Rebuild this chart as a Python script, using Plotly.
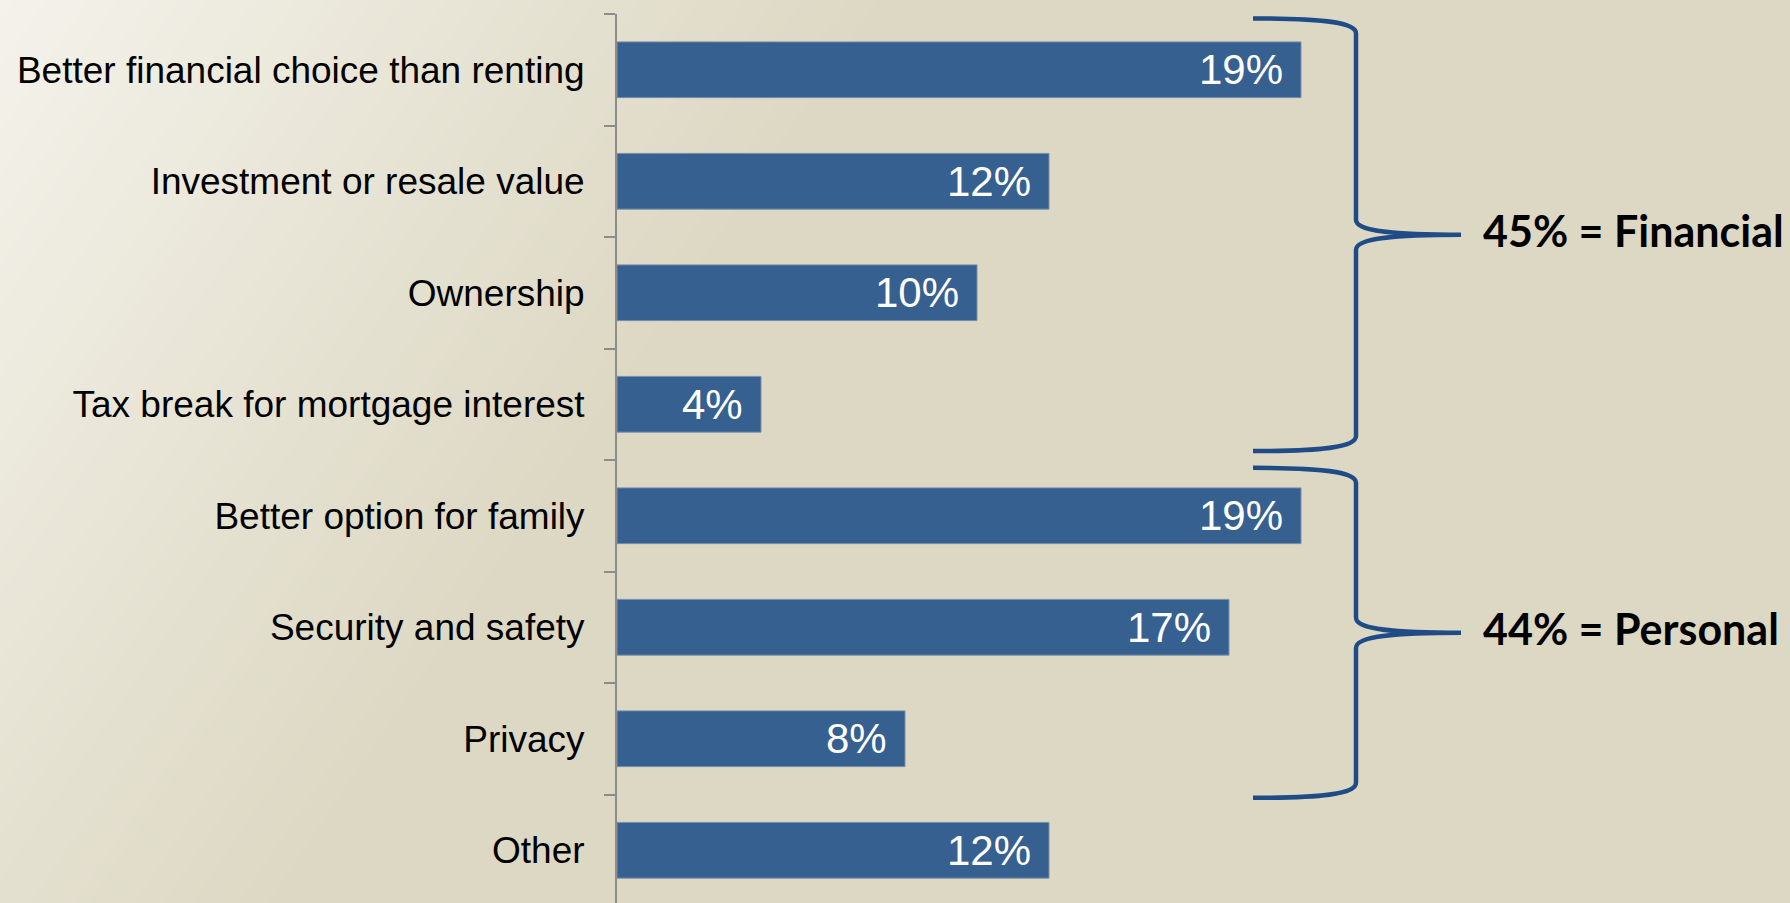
import plotly.graph_objects as go

# ---------------- data ----------------
categories = [
    "Better financial choice than renting",
    "Investment or resale value",
    "Ownership",
    "Tax break for mortgage interest",
    "Better option for family",
    "Security and safety",
    "Privacy",
    "Other",
]
values = [19, 12, 10, 4, 19, 17, 8, 12]
group_names = ["Financial", "Personal"]
group_members = [[0, 1, 2, 3], [4, 5, 6]]

# ---------------- layout constants ----------------
W, H = 1790, 903
ML, MR, MT, MB = 617, 0, 14, 0
PW, PH = W - ML - MR, H - MT - MB
PX_PER_UNIT = 36.0
x_max = PW / PX_PER_UNIT
y_top, y_bot = -0.5, 7.473

BAR_COLOR = "#36608f"
BAR_EDGE = "#7890ae"
BRACE_COLOR = "#1f4c86"
AXIS_COLOR = "#8c8c8c"
BG_END = (0xdd, 0xd8, 0xc3)
BG_START = (0xf4, 0xf2, 0xeb)

idx = list(range(len(categories)))

fig = go.Figure()
fig.add_trace(go.Bar(
    x=values, y=idx, orientation="h", width=0.5,
    marker=dict(color=BAR_COLOR, line=dict(color=BAR_EDGE, width=1)),
    hoverinfo="skip", showlegend=False,
))

# value labels inside bar ends
annotations = []
for i, v in zip(idx, values):
    annotations.append(dict(
        x=v, y=i, xref="x", yref="y", text=f"{v}%", showarrow=False,
        xanchor="right", yanchor="middle", xshift=-16,
        font=dict(family="Liberation Sans, Arial", size=42, color="white"),
    ))

# ---------------- background gradient (diagonal) ----------------
def px2paper(px, py):
    return (px - ML) / PW, 1 - (py - MT) / PH

shapes = []
dx, dy = 0.83, 0.56
T_END = 740.0
steps = 60
for k in range(steps, 0, -1):
    t = T_END * k / steps
    f = (k - 0.5) / steps
    col = tuple(round(BG_START[c] + (BG_END[c] - BG_START[c]) * f) for c in range(3))
    ya, yb = -20, 930
    xa = (t - ya * dy) / dx
    xb = (t - yb * dy) / dx
    pts = [(-3000, ya), (xa, ya), (xb, yb), (-3000, yb)]
    pp = [px2paper(*p) for p in pts]
    path = "M " + " L ".join(f"{a:.5f},{b:.5f}" for a, b in pp) + " Z"
    shapes.append(dict(type="path", path=path, xref="paper", yref="paper",
                       fillcolor="rgb(%d,%d,%d)" % col, line=dict(width=0),
                       layer="below"))

# ---------------- braces ----------------
def px2x(px):
    return (px - ML) / PX_PER_UNIT

x_arm, x_vert, x_tip, x_lab = px2x(1253), px2x(1356), px2x(1461), px2x(1481)
insets = [(0.04, -0.08), (0.07, 0.03)]
k = 0.135
for name, members, (i0, i1) in zip(group_names, group_members, insets):
    y0 = members[0] - 0.5 + i0
    y1 = members[-1] + 0.5 + i1
    yc = (y0 + y1) / 2
    xm = x_arm + (x_vert - x_arm) * 0.65
    xn = x_vert + (x_tip - x_vert) * 0.35
    path = (
        f"M {x_arm},{y0} C {xm},{y0} {x_vert},{y0+0.03} {x_vert},{y0+k} "
        f"L {x_vert},{yc-k} C {x_vert},{yc-0.03} {xn},{yc} {x_tip},{yc} "
        f"C {xn},{yc} {x_vert},{yc+0.03} {x_vert},{yc+k} "
        f"L {x_vert},{y1-k} C {x_vert},{y1-0.03} {xm},{y1} {x_arm},{y1}"
    )
    shapes.append(dict(type="path", path=path, xref="x", yref="y",
                       line=dict(color=BRACE_COLOR, width=4.5), layer="above"))
    total = sum(values[m] for m in members)
    annotations.append(dict(
        x=x_lab, y=yc, xref="x", yref="y", text=f"<b>{total}% = {name}</b>",
        showarrow=False, xanchor="left", yanchor="middle", yshift=4,
        font=dict(family="Lato", size=43, color="black"),
    ))

fig.update_layout(
    width=W, height=H,
    margin=dict(l=ML, r=MR, t=MT, b=MB, pad=0),
    paper_bgcolor="rgb(%d,%d,%d)" % BG_END,
    plot_bgcolor="rgba(0,0,0,0)",
    shapes=shapes, annotations=annotations,
    showlegend=False,
    xaxis=dict(range=[0, x_max], visible=False, showgrid=False, zeroline=False),
    yaxis=dict(
        range=[y_bot, y_top], tickmode="array", tickvals=idx, ticktext=categories,
        ticks="", showgrid=False, zeroline=False,
        showline=True, linecolor=AXIS_COLOR, linewidth=2,
        tickfont=dict(family="Liberation Sans, Arial", size=37, color="black"),
        ticklabelstandoff=23,
        minor=dict(tickmode="array", tickvals=[i - 0.5 for i in range(len(categories) + 1)],
                   ticks="outside", ticklen=11, tickcolor=AXIS_COLOR, tickwidth=2,
                   showgrid=False),
    ),
)

fig.write_html(
    "out.html",
    config={"displayModeBar": False},
    post_script="document.body.style.margin='0';document.body.style.overflow='hidden';",
)
